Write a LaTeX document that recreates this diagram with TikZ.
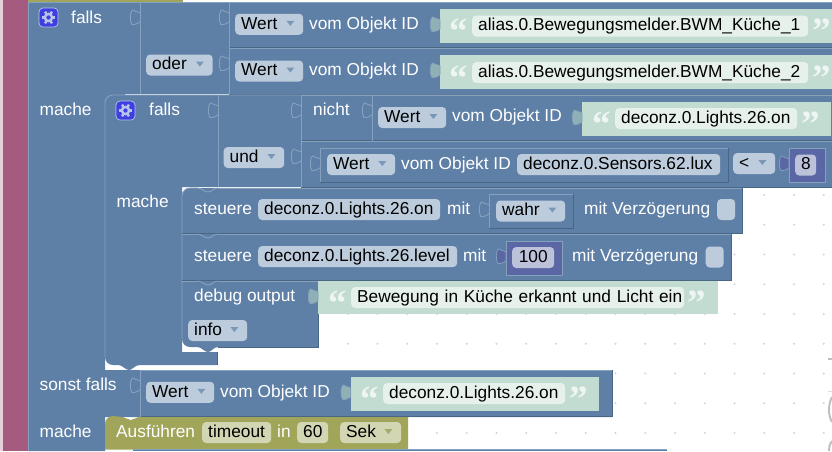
\documentclass[tikz,border=0pt]{standalone}
\usepackage{fontspec}
\setmainfont{Liberation Sans}
\newfontfamily\quotefont{Liberation Serif}
\usetikzlibrary{positioning, shapes.geometric}
\definecolor{workspacepink}{HTML}{E6CEDA}
\definecolor{logicpurple}{HTML}{A55B80}
\definecolor{blockblue}{HTML}{5F80A6}
\definecolor{edgelight}{HTML}{86A1BD}
\definecolor{edgedark}{HTML}{496684}
\definecolor{fieldblue}{HTML}{BDCCDC}
\definecolor{dropblue}{HTML}{7B97B7}
\definecolor{textgreen}{HTML}{C2DCD2}
\definecolor{fieldgreen}{HTML}{E7F1EC}
\definecolor{tabgreen}{HTML}{8FB0B5}
\definecolor{mathviolet}{HTML}{5B67A5}
\definecolor{fieldviolet}{HTML}{BDC2DB}
\definecolor{timerolive}{HTML}{A0A55A}
\definecolor{fieldolive}{HTML}{D3D6B2}
\definecolor{dropolive}{HTML}{A5A96E}
\definecolor{cogblue}{HTML}{3D3FE0}
\definecolor{coglight}{HTML}{B9C4EA}
\tikzstyle{body} = [fill=blockblue]
\tikzstyle{light} = [draw=edgelight, line width=0.9pt]
\tikzstyle{dark} = [draw=edgedark, line width=0.9pt]
\tikzstyle{griddot} = [fill=black!17]
\tikzstyle{label} = [anchor=west, inner sep=0pt, text=white, text height=13pt, text depth=3.5pt]
\tikzstyle{fieldbase} = [anchor=west, rounded corners=4pt, inner ysep=0pt, inner xsep=6pt, minimum height=21pt, text=black, text height=13pt, text depth=3.5pt]
\tikzstyle{field} = [fieldbase, fill=fieldblue, text width=#1pt-12pt]
\tikzstyle{stringfield} = [fieldbase, fill=fieldgreen, text width=#1pt-12pt]
\tikzstyle{numfield} = [fieldbase, fill=fieldviolet, align=center, text width=#1pt-12pt]
\tikzstyle{olivefield} = [fieldbase, fill=fieldolive, text width=#1pt-12pt]
\tikzstyle{quotemark} = [anchor=base, inner sep=0pt, text=fieldgreen!70!white, font=\quotefont\bfseries\fontsize{37}{37}\selectfont]
\tikzset{
    pics/slotline/.style={code={\draw[light] (0,3.7) .. controls (-3,3.7) and (-6,1) .. (-7.7,1) .. controls (-10,2.7) and (-10.5,11.7) .. (-8.3,15.3) .. controls (-6,16.2) and (-2,14.7) .. (0,12.7);}},
    pics/valuetab/.style={code={\path[fill=#1, draw=edgelight, line width=0.7pt] (0,3.7) .. controls (-3,3.7) and (-6,1) .. (-7.7,1) .. controls (-10,2.7) and (-10.5,11.7) .. (-8.3,15.3) .. controls (-6,16.2) and (-2,14.7) .. (0,12.7) -- cycle;}},
    pics/notchline/.style={code={\draw[light] (0,0) .. controls (5,0) and (7,4) .. (11,4) .. controls (15,4) and (16,0) .. (21,0);}},
    pics/cog/.style={code={
        \draw[fill=cogblue, draw=coglight, line width=0.7pt, rounded corners=4pt] (-9.5,-9.5) rectangle (9.5,9.5);
        \draw[draw=coglight, line width=2.4pt] (0,0) circle (3.6pt);
        \foreach \a in {0,60,...,300} \draw[draw=coglight, line width=2.4pt] (\a:4.2pt) -- (\a:6.8pt);
    }}
}
\newcommand{\edgebox}[4]{\draw[dark] (#3,#2) -- (#3,#4) -- (#1,#4); \draw[light] (#1,#4) -- (#1,#2) -- (#3,#2);}
\newcommand{\dropdown}[2][dropblue]{\fill[#1] ([shift={(-17,-3.5)}]#2.east) -- ++(8,0) -- ++(-4,5) -- cycle;}
\newcommand{\quotes}[4]{\node[quotemark] (#1open) at (#2,#4+17.7) {“}; \node[quotemark] (#1close) at (#3,#4+17.7) {”};}

\begin{document}
\begin{tikzpicture}[x=1pt, y=-1pt, font=\fontsize{17.3}{19}\selectfont]
    \useasboundingbox (0,0) rectangle (832,451);
    \clip (0,0) rectangle (832,451);
    \fill[white] (0,0) rectangle (832,451);
    \foreach \i in {0,...,25}
        \foreach \j in {0,...,14}
            \fill[griddot] ({80+\i*29.75},{16.5+\j*29.75}) circle (1.2pt);
    \draw[black!25, line width=2pt] (832,397) .. controls (828,405) and (828,415) .. (832,422);
    \draw[black!25, line width=2pt] (832,441) .. controls (829,445) and (829,448) .. (829,451);
    \draw[black!25, line width=1.2pt] (828,359) -- (832,359);
    \draw[black!12, line width=0.7pt] (828,391.5) -- (832,391.5);

    \fill[workspacepink] (0,0) rectangle (3,451);
    \fill[logicpurple] (3,0) rectangle (27.5,451);
    \fill[timerolive] (28,0) rectangle (183,2.5);

    % blocks
    \path[body] (28,2) -- (832,2) -- (832,94) -- (125,94) -- (125,110) -- (105,110) -- (105,370) -- (612,370) -- (612,417) -- (105,417) -- (105,451) -- (28,451) -- cycle;
    \path[body] (105,103) arc (180:90:8pt) -- (832,95) -- (832,187) -- (182,187) -- (182,352) -- (217.7,352) -- (217.7,365) -- (140,365) .. controls (134,365) and (133,370) .. (129,370) .. controls (125,370) and (123,365) .. (118,365) -- (113,365) arc (270:180:8pt) -- cycle;
    \path[body] (182,196) arc (180:90:8pt) -- (742,188) -- (742,233.5) -- (182,233.5) -- cycle;
    \path[body] (182,234) -- (731,234) -- (731,280.5) -- (182,280.5) -- cycle;
    \path[body] (182,281) -- (318,281) -- (318,347) -- (218,347) .. controls (213,347) and (212,352) .. (208,352) .. controls (204,352) and (202,347) .. (197,347) -- (190,347) arc (270:180:8pt) -- cycle;
    \path[fill=timerolive] (105,424) arc (180:90:8pt) -- (120,416.7) .. controls (125,416.7) and (127,420) .. (131,420) .. controls (135,420) and (136,416.7) .. (141,416.7) -- (408,416.7) -- (408,449.5) -- (105,449.5) -- cycle;
    \fill[blockblue] (133,449.5) rectangle (667,451);
    \draw[light] (133,449.5) -- (667,449.5);

    % outlines
    \draw[light] (28,451) -- (28,2) -- (832,2);
    \draw[light] (140,2) -- (140,94);
    \edgebox{229}{2}{840}{47.5}
    \edgebox{229}{48.5}{840}{94}
    \draw[light] (105,357) -- (105,103) arc (180:90:8pt) -- (832,95);
    \draw[light] (218,95) -- (218,187);
    \edgebox{301}{95}{372}{140.5}
    \edgebox{372}{95}{840}{140.5}
    \edgebox{301}{141.5}{840}{187}
    \edgebox{320}{148}{728}{182}
    \draw[light] (182,339) -- (182,196) arc (180:90:8pt) -- (197,188);
    \draw[light] (218,188) -- (742,188);
    \draw[dark] (742,188) -- (742,233.5) -- (182,233.5);
    \draw[light] (182,234) -- (197,234);
    \draw[light] (218,234) -- (731,234);
    \draw[dark] (731,234) -- (731,280.5) -- (182,280.5);
    \draw[light] (182,281) -- (197,281);
    \draw[light] (218,281) -- (318,281);
    \draw[dark] (318,281) -- (318,347) -- (218,347);
    \draw[dark] (217.7,352) -- (217.7,365);
    \edgebox{489}{194}{573}{228}
    \pic at (197,188) {notchline};
    \pic at (197,234) {notchline};
    \pic at (197,281) {notchline};
    \draw[light] (140,370) -- (612,370);
    \draw[dark] (612,370) -- (612,416.7) -- (140,416.7);
    \draw[light] (140,370) -- (140,416.7);

    \pic at (140,9) {slotline};
    \pic at (229,9) {slotline};
    \pic at (229,55) {slotline};
    \pic at (218,102) {slotline};
    \pic at (301,102) {slotline};
    \pic at (372,102) {slotline};
    \pic at (301,148) {slotline};
    \pic at (320,155) {slotline};
    \pic at (489,201) {slotline};
    \pic at (140,377) {slotline};

    % text blocks
    \fill[textgreen] (440,9) rectangle (840,42.5);
    \fill[textgreen] (440,55) rectangle (840,89);
    \fill[textgreen] (582,102) rectangle (831,135.5);
    \fill[textgreen] (318,281) rectangle (717.5,313.7);
    \fill[textgreen] (350.7,376.5) rectangle (599,410.7);
    \pic at (440,16) {valuetab=tabgreen};
    \pic at (440,62) {valuetab=tabgreen};
    \pic at (582,109) {valuetab=tabgreen};
    \pic at (318,288) {valuetab=tabgreen};
    \pic at (350.7,384) {valuetab=tabgreen};

    % number blocks
    \path[fill=mathviolet, draw=edgelight, line width=0.7pt] (789,148) rectangle (825,182);
    \path[fill=mathviolet, draw=edgelight, line width=0.7pt] (506,241) rectangle (562,275.5);
    \pic at (789,155) {valuetab=mathviolet};
    \pic at (506,248) {valuetab=mathviolet};

    % outer condition
    \pic at (48.5,17.5) {cog};
    \node[label] (fallsA) at (71,18.25) {falls};
    \node[label] (macheA) at (39.5,110.25) {mache};
    \node[field=66.5] (oderA) at (146,65) {oder};
    \dropdown{oderA}
    \node[field=68] (wertA) at (235,24.25) {Wert};
    \dropdown{wertA}
    \node[label] (vomA) at (309,24.25) {vom Objekt ID};
    \node[stringfield=336] (aliasA) at (472,26) {\mbox{alias.0.Bewegungsmelder.BWM\_Küche\_1}};
    \quotes{aliasA}{458.5}{822}{26}
    \node[field=68] (wertB) at (235,71) {Wert};
    \dropdown{wertB}
    \node[label] (vomB) at (309,71) {vom Objekt ID};
    \node[stringfield=336] (aliasB) at (472,72.5) {\mbox{alias.0.Bewegungsmelder.BWM\_Küche\_2}};
    \quotes{aliasB}{458.5}{822}{72.5}

    % inner condition
    \pic at (125.5,110.5) {cog};
    \node[label] (fallsB) at (149,110.25) {falls};
    \node[label] (macheB) at (116.5,203) {mache};
    \node[field=60.5] (undA) at (223.5,157.5) {und};
    \dropdown{undA}
    \node[label] (nichtA) at (313,110.25) {nicht};
    \node[field=68] (wertC) at (378,117.5) {Wert};
    \dropdown{wertC}
    \node[label] (vomC) at (452,117) {vom Objekt ID};
    \node[stringfield=182] (lightsA) at (615,118.5) {\mbox{deconz.0.Lights.26.on}};
    \quotes{lightsA}{601.5}{810.5}{118.5}
    \node[field=68] (wertD) at (327,164.5) {Wert};
    \dropdown{wertD}
    \node[label] (vomD) at (401,164.5) {vom Objekt ID};
    \node[field=203] (luxA) at (517,164.5) {\mbox{deconz.0.Sensors.62.lux}};
    \node[field=42] (lessA) at (733,163.5) {<};
    \dropdown{lessA}
    \node[numfield=21] (numA) at (795,165) {8};

    % first statement
    \node[label] (steuereA) at (194,209.5) {steuere};
    \node[field=182] (lightsB) at (258,209.5) {\mbox{deconz.0.Lights.26.on}};
    \node[label] (mitA) at (447,209.5) {mit};
    \node[field=69] (wahrA) at (496,211) {wahr};
    \dropdown{wahrA}
    \node[label] (delayA) at (584,209.5) {mit Verzögerung};
    \node[field=18, text width=6pt] (checkA) at (717,209.5) {};

    % second statement
    \node[label] (steuereB) at (194,256.5) {steuere};
    \node[field=199] (levelA) at (258,256.5) {\mbox{deconz.0.Lights.26.level}};
    \node[label] (mitB) at (463,256.5) {mit};
    \node[numfield=42] (numB) at (512,257.5) {100};
    \node[label] (delayB) at (572,256.5) {mit Verzögerung};
    \node[field=18, text width=6pt] (checkB) at (705.5,257) {};

    % third statement
    \node[label] (debugA) at (194,296.5) {debug output};
    \node[stringfield=333] (debugText) at (351,297.5) {\mbox{Bewegung in Küche erkannt und Licht ein}};
    \quotes{debugText}{337.5}{697}{297.5}
    \node[field=59] (infoA) at (188,330.5) {info};
    \dropdown{infoA}

    % second branch
    \node[label] (sonstA) at (39.5,386) {sonst falls};
    \node[field=68] (wertE) at (146,392.25) {Wert};
    \dropdown{wertE}
    \node[label] (vomE) at (220,392.25) {vom Objekt ID};
    \node[stringfield=182] (lightsC) at (383,393.5) {\mbox{deconz.0.Lights.26.on}};
    \quotes{lightsC}{370}{579}{393.5}
    \node[label] (macheC) at (39.5,432.5) {mache};
    \node[label] (timerA) at (116,432.5) {Ausführen};
    \node[olivefield=69] (timeoutA) at (202,432.5) {timeout};
    \node[label] (inA) at (277,432.5) {in};
    \node[olivefield=31, align=center] (secA) at (297,432.5) {60};
    \node[olivefield=61] (unitA) at (340,432.5) {Sek};
    \dropdown[dropolive]{unitA}
\end{tikzpicture}
\end{document}
